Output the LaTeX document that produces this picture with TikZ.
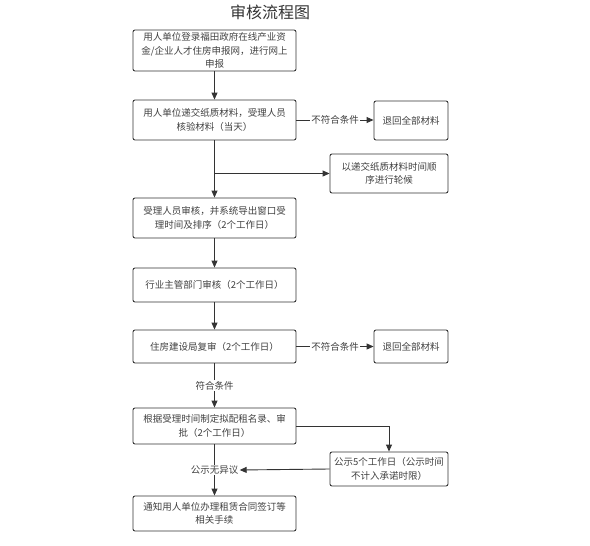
\documentclass[tikz,border=0pt]{standalone}
\usepackage{fontspec}
\newfontfamily\cjk{Noto Sans CJK SC}
\usetikzlibrary{arrows.meta}
\begin{document}
\begin{tikzpicture}[x=1pt,y=-1pt,
  font=\cjk\fontsize{9.5}{13.5}\selectfont,
  box/.style={draw=black!80, line width=0.9pt, rounded corners=2pt, align=center, text=black!75, inner sep=2pt},
  mainbox/.style={box, minimum width=163pt, text width=155pt},
  arr/.style={draw=black!80, line width=0.9pt, -{Triangle[length=7pt,width=6pt]}},
  lbl/.style={fill=white, text=black!75, inner sep=1pt}]
\useasboundingbox (0,0) rectangle (590,546);
\node[text=black!80, font=\cjk\fontsize{16}{18}\selectfont] (title) at (270,12) {审核流程图};
\node[mainbox, minimum height=41pt] (b1) at (214.5,50.5) {用人单位登录福田政府在线产业资\\金/企业人才住房申报网，进行网上\\申报};
\node[mainbox, minimum height=40pt] (b2) at (214.5,120) {用人单位递交纸质材料，受理人员\\核验材料（当天）};
\node[box, minimum width=74pt, minimum height=39pt] (r1) at (411,120.5) {退回全部材料};
\node[box, minimum width=118pt, minimum height=39pt] (q) at (389,173.5) {以递交纸质材料时间顺\\序进行轮候};
\node[mainbox, minimum height=40pt] (b3) at (214.5,218) {受理人员审核，并系统导出窗口受\\理时间及排序（2个工作日）};
\node[mainbox, minimum height=34pt] (b4) at (214.5,285) {行业主管部门审核（2个工作日）};
\node[mainbox, minimum height=33pt] (b5) at (214.5,346.5) {住房建设局复审（2个工作日）};
\node[box, minimum width=74pt, minimum height=33pt] (r2) at (411,346.5) {退回全部材料};
\node[mainbox, minimum height=36pt] (b6) at (214.5,426) {根据受理时间制定拟配租名录、审\\批（2个工作日）};
\node[box, minimum width=118pt, minimum height=34pt] (b7) at (389,469) {公示5个工作日（公示时间\\不计入承诺时限）};
\node[mainbox, minimum height=35pt] (b8) at (214.5,513.5) {通知用人单位办理租赁合同签订等\\相关手续};
\coordinate (br) at (214.5,173.5);
\draw[arr] (b1) -- (b2);
\draw[arr] (b2.east) -- node[lbl]{不符合条件} (r1.west |- b2.east);
\draw[arr] (b2) -- (b3);
\draw[arr] (br) -- (q.west);
\draw[arr] (b3) -- (b4);
\draw[arr] (b4) -- (b5);
\draw[arr] (b5.east) -- node[lbl]{不符合条件} (r2.west);
\draw[arr] (b5) -- node[lbl]{符合条件} (b6);
\draw[arr] (b6.east) -| (b7.north);
\draw[arr] (b6) -- node[lbl] (pub) {公示无异议} (b8);
\draw[arr] (b7.west) -- (pub.east);
\end{tikzpicture}
\end{document}
